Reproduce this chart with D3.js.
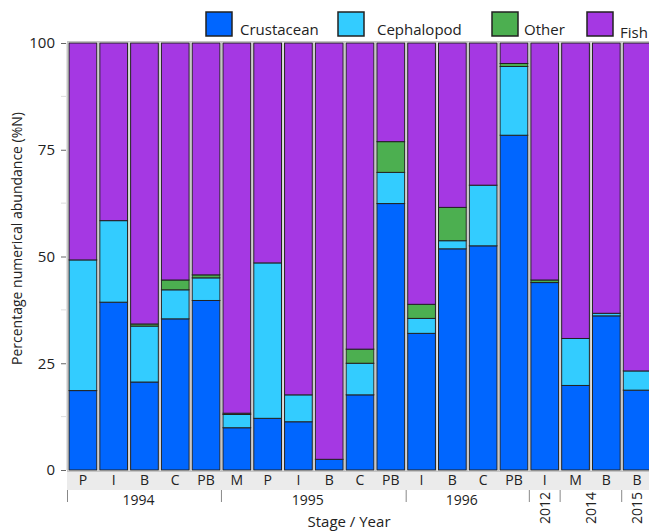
<!DOCTYPE html>
<html>
<head>
<meta charset="utf-8">
<script src="https://cdn.jsdelivr.net/npm/d3@7"></script>
<style>
  body { margin: 0; background: #fff; }
  svg { display: block; font-family: 'Open Sans', sans-serif; }
</style>
</head>
<body>
<svg id="chart" width="649" height="532"></svg>
<script>
const stages = ['P', 'I', 'B', 'C', 'PB', 'M', 'P', 'I', 'B', 'C', 'PB', 'I', 'B', 'C', 'PB', 'I', 'M', 'B', 'B']
const years = ['1994', '1994', '1994', '1994', '1994', '1995', '1995', '1995', '1995', '1995', '1995',
  '1996', '1996', '1996', '1996', '2012', '2014', '2014', '2015']
const crustacean = [18.6, 39.3, 20.6, 35.4, 39.7, 9.9, 12.1, 11.3, 2.5, 17.6, 62.4, 32.0, 51.8, 52.5, 78.4, 43.9, 19.8, 36.1, 18.7]
const cephalopod = [30.6, 19.1, 13.1, 6.8, 5.3, 3.1, 36.4, 6.3, 0, 7.4, 7.3, 3.5, 1.9, 14.2, 16.1, 0, 11.0, 0.6, 4.5]
const other = [0, 0, 0.5, 2.3, 0.7, 0.3, 0, 0, 0, 3.3, 7.2, 3.3, 7.8, 0, 0.7, 0.6, 0, 0, 0]
const yTicks = [0, 25, 50, 75, 100]
const keys = ['Crustacean', 'Cephalopod', 'Other', 'Fish']

const color = d3.scaleOrdinal()
  .domain(keys)
  .range(['#0066ff', '#33ccff', '#4caf50', '#a538e3'])

const svg = d3.select('#chart')

// fish fills the rest of each bar up to 100 %
const rows = stages.map((s, i) => ({
  i,
  Crustacean: crustacean[i],
  Cephalopod: cephalopod[i],
  Other: other[i],
  Fish: 100 - crustacean[i] - cephalopod[i] - other[i]
}))

const x = d3.scaleBand()
  .domain(d3.range(stages.length))
  .range([67.5, 652.5])
  .paddingInner(0.1)
  .paddingOuter(0.05)

const y = d3.scaleLinear()
  .domain([0, 100])
  .range([470, 43])

// y axis: light spine, minor ticks, major ticks
svg.append('line')
  .attr('x1', 66.5).attr('x2', 66.5)
  .attr('y1', y(100)).attr('y2', y(0))
  .attr('stroke', '#e4e4e4')

svg.append('g')
  .selectAll('line')
  .data(d3.range(12.5, 100, 25))
  .join('line')
  .attr('x1', 61).attr('x2', 66)
  .attr('y1', d => y(d)).attr('y2', d => y(d))
  .attr('stroke', '#dddddd')

const yAxis = svg.append('g')
  .attr('transform', 'translate(66,0)')
  .call(d3.axisLeft(y).tickValues(yTicks).tickSize(5).tickPadding(6))
yAxis.select('.domain').remove()
yAxis.selectAll('.tick line').attr('stroke', '#666')
yAxis.selectAll('.tick text')
  .attr('font-family', 'Open Sans')
  .attr('font-size', '15px')
  .attr('fill', '#222')

svg.append('text')
  .attr('transform', `translate(22, ${(y(0) + y(100)) / 2 - 18}) rotate(-90)`)
  .attr('text-anchor', 'middle')
  .attr('font-size', '14px')
  .attr('fill', '#222')
  .text('Percentage numerical abundance (%N)')

// bar slots with grey outline behind each bar
svg.append('g')
  .selectAll('rect')
  .data(rows)
  .join('rect')
  .attr('x', d => x(d.i) - 1.5)
  .attr('y', y(100) - 1.5)
  .attr('width', x.bandwidth() + 3)
  .attr('height', y(0) - y(100) + 3)
  .attr('fill', '#fff')
  .attr('stroke', '#c4c4c4')
  .attr('stroke-width', 1)

const series = d3.stack().keys(keys)(rows)

svg.append('g')
  .selectAll('g')
  .data(series)
  .join('g')
  .attr('fill', d => color(d.key))
  .selectAll('rect')
  .data(d => d.filter(s => s[1] - s[0] > 0))
  .join('rect')
  .attr('x', d => x(d.data.i))
  .attr('y', d => y(d[1]))
  .attr('width', x.bandwidth())
  .attr('height', d => y(d[0]) - y(d[1]))
  .attr('stroke', '#222')
  .attr('stroke-width', 1)

// stage label strip
svg.append('rect')
  .attr('x', 67).attr('y', 472)
  .attr('width', 600).attr('height', 18)
  .attr('fill', '#ebebeb')

svg.append('g')
  .selectAll('text')
  .data(stages)
  .join('text')
  .attr('x', (d, i) => x(i) + x.bandwidth() / 2)
  .attr('y', 485)
  .attr('text-anchor', 'middle')
  .attr('font-size', '14px')
  .attr('fill', '#222')
  .text(d => d)

// year groups
const groups = []
years.forEach((yr, i) => {
  const last = groups[groups.length - 1]
  if (last && last.year === yr) last.end = i
  else groups.push({ year: yr, start: i, end: i })
})
const half = x.step() * x.paddingInner() / 2

svg.append('g')
  .selectAll('line')
  .data(groups)
  .join('line')
  .attr('x1', d => x(d.start) - half)
  .attr('x2', d => x(d.start) - half)
  .attr('y1', 490).attr('y2', 502)
  .attr('stroke', '#888')

groups.forEach(g => {
  const cx = (x(g.start) + x(g.end) + x.bandwidth()) / 2
  const t = svg.append('text')
    .attr('font-size', '14px')
    .attr('fill', '#222')
    .text(g.year)
  if (g.end - g.start >= 3) {
    t.attr('x', cx - 6).attr('y', 505).attr('text-anchor', 'middle')
  } else {
    t.attr('transform', `translate(${cx + 5}, 492) rotate(-90)`)
      .attr('text-anchor', 'end')
  }
})

svg.append('text')
  .attr('x', 349)
  .attr('y', 527)
  .attr('text-anchor', 'middle')
  .attr('font-size', '15px')
  .attr('fill', '#222')
  .text('Stage / Year')

// legend
const legendX = [206, 338, 492, 587]
const legendTextX = [240, 377, 524, 620]
const legendTextY = [35, 35, 35, 38]

const legend = svg.append('g')
  .selectAll('g')
  .data(keys)
  .join('g')

legend.append('rect')
  .attr('x', (d, i) => legendX[i])
  .attr('y', 12)
  .attr('width', 26)
  .attr('height', 24)
  .attr('fill', d => color(d))
  .attr('stroke', '#222')
  .attr('stroke-width', 1.5)

legend.append('text')
  .attr('x', (d, i) => legendTextX[i])
  .attr('y', (d, i) => legendTextY[i])
  .attr('font-size', '15px')
  .attr('fill', '#222')
  .text(d => d)
</script>
</body>
</html>
